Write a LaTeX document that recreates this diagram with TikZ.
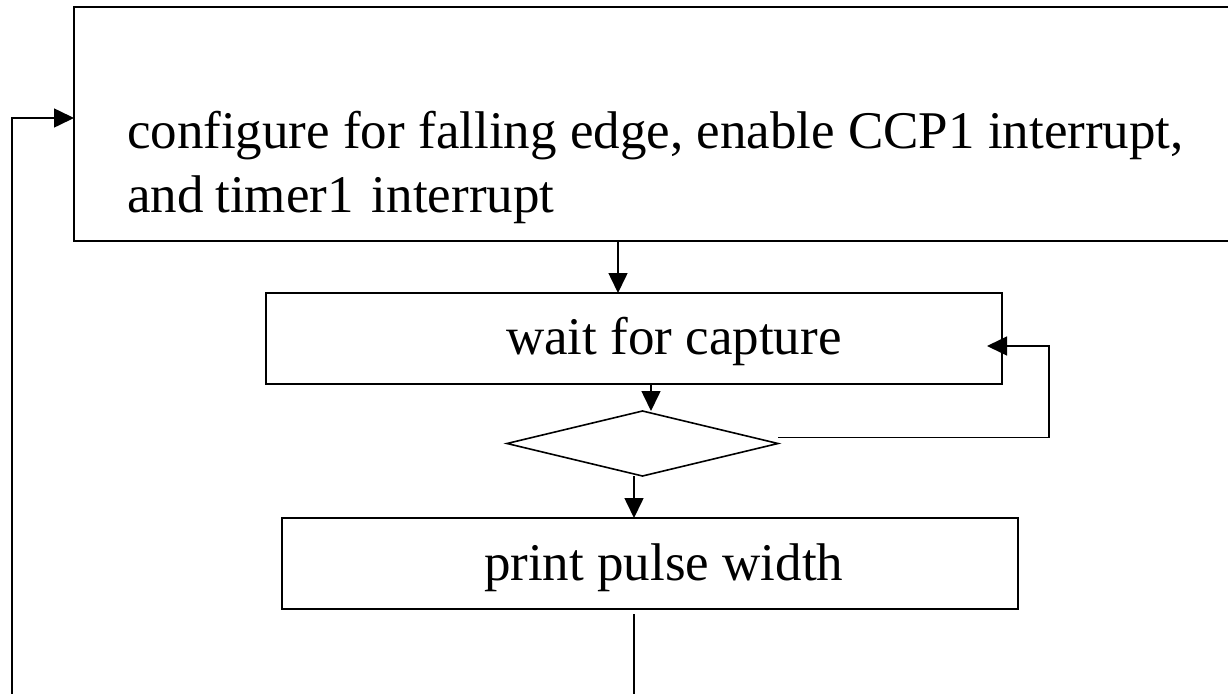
\documentclass[tikz,border=0pt]{standalone}
\usepackage{fontspec}
\setmainfont{Liberation Serif}
\usetikzlibrary{shapes.geometric,arrows.meta}
\begin{document}
\begin{tikzpicture}[x=1pt,y=-1pt,
  line width=1.6pt,
  box/.style={draw, rectangle, inner sep=0pt, outer sep=0pt, anchor=north west},
  label/.style={inner sep=0pt, outer sep=0pt, anchor=base west,
                font=\fontsize{53}{64}\selectfont},
  arr/.style={-{Triangle[length=20pt,width=19pt]}}]
\useasboundingbox (0,0) rectangle (1228,693);
\clip (0,0) rectangle (1228,693);

% process boxes
\node[box, minimum width=1180pt, minimum height=234pt] (cfg) at (74,7) {};
\node[box, minimum width=736pt, minimum height=91pt] (wait) at (266,293) {};
\node[box, minimum width=736pt, minimum height=91pt] (print) at (282,518) {};

% decision
\node[draw, diamond, inner sep=0pt, outer sep=0pt,
      minimum width=271pt, minimum height=65pt] (dec) at (642.5,443.5) {};

% texts
\node[label] (t1) at (127,148) {configure for falling edge, enable CCP1 interrupt,};
\node[label] (t2) at (127,212) {and\hspace{12pt}timer1\hspace{18pt}interrupt};
\node[label] (t3) at (506,354) {wait for capture};
\node[label] (t4) at (484,580) {print pulse width};

% free ends of the return path
\coordinate (pdown) at (634,700);
\coordinate (fbot) at (12,700);
\coordinate (fturn) at (12,118);

% connectors
\draw[arr] (cfg.south -| 618,0) -- (wait.north -| 618,0);
\draw[arr] (wait.south -| 651,0) -- (651,411);
\draw[arr] (dec.south -| 634,0) -- (print.north -| 634,0);
\draw[arr] ([yshift=6pt]dec.east) -- ++(271,0) |- ([xshift=-15pt,yshift=-7.5pt]wait.east);
\draw ([yshift=-5pt]print.south -| pdown) -- (pdown);
\draw[arr] (fbot) -- (fturn) -- (fturn -| cfg.west);
\end{tikzpicture}
\end{document}
